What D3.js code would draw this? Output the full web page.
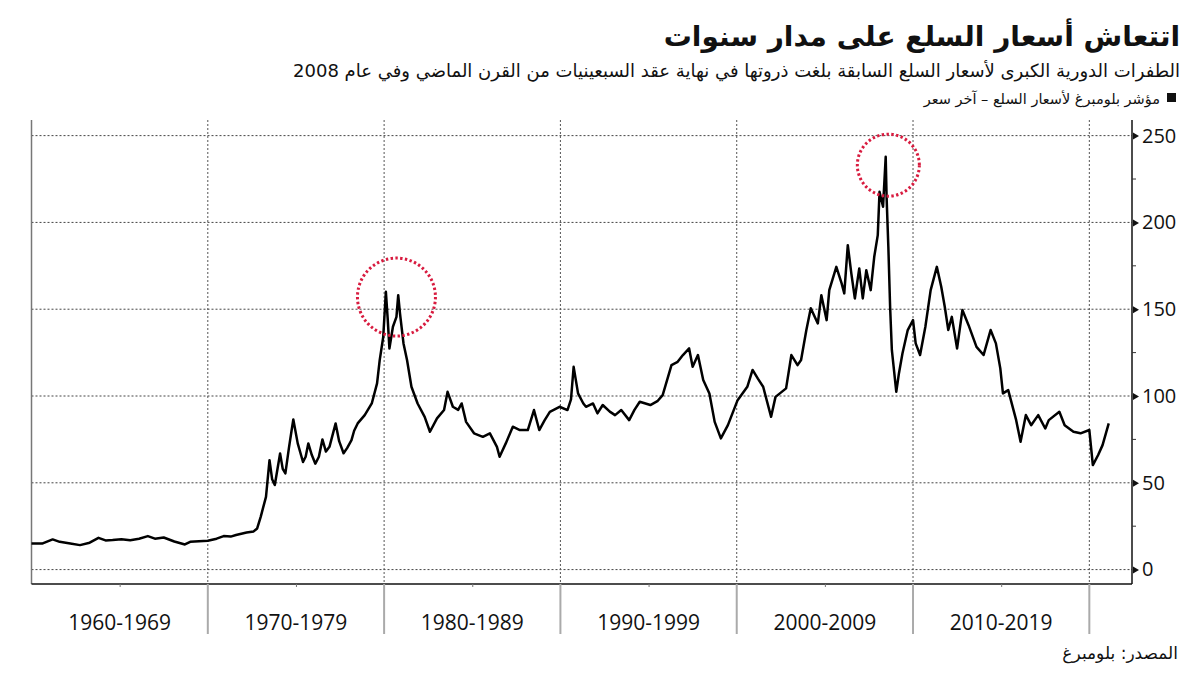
<!DOCTYPE html>
<html><head><meta charset="utf-8">
<script src="https://cdn.jsdelivr.net/npm/d3@7"></script>
<style>
html,body{margin:0;padding:0;background:#fff;}
svg{display:block;}
</style></head>
<body><svg id="c" width="1200" height="675"></svg>
<script>
// ---- data ----
const years = [1960.0,1960.6,1961.2,1961.6,1962.2,1962.75,1963.3,1963.8,1964.2,1964.6,1965.1,1965.6,1966.1,1966.6,1967.0,1967.5,1968.1,1968.7,1969.0,1969.5,
1970.0,1970.5,1970.9,1971.3,1971.6,1972.2,1972.6,1972.8,1973.0,1973.3,1973.5,1973.65,1973.8,1974.1,1974.25,1974.4,1974.6,1974.75,1974.85,1975.1,1975.4,1975.55,1975.7,1975.9,1976.1,1976.3,1976.5,1976.7,1976.9,1977.25,1977.45,1977.7,1977.9,1978.15,1978.3,1978.5,1978.9,1979.3,1979.6,1979.75,1979.95,
1980.1,1980.2,1980.3,1980.5,1980.7,1980.8,1980.9,1981.1,1981.3,1981.55,1981.9,1982.3,1982.6,1983.0,1983.4,1983.6,1983.9,1984.2,1984.4,1984.65,1985.1,1985.6,1986.0,1986.4,1986.55,1986.9,1987.3,1987.7,1988.15,1988.5,1988.8,1989.1,1989.4,1989.95,
1990.4,1990.6,1990.75,1991.0,1991.3,1991.45,1991.85,1992.1,1992.4,1992.8,1993.1,1993.45,1993.9,1994.2,1994.5,1995.1,1995.5,1995.8,1996.3,1996.65,1996.95,1997.3,1997.5,1997.8,1998.1,1998.45,1998.75,1999.1,1999.5,
2000.05,2000.6,2000.9,2001.2,2001.5,2001.95,2002.2,2002.8,2003.1,2003.45,2003.65,2003.95,2004.2,2004.6,2004.8,2005.1,2005.25,2005.65,2005.95,2006.1,2006.3,2006.5,2006.7,2006.95,2007.15,2007.35,2007.6,2007.8,2008.0,2008.1,2008.3,2008.45,2008.5,2008.6,2008.7,2008.8,2009.05,2009.2,2009.4,2009.7,
2010.0,2010.15,2010.4,2010.7,2011.0,2011.35,2011.6,2011.8,2012.0,2012.2,2012.5,2012.8,2013.15,2013.6,2014.0,2014.4,2014.7,2014.95,2015.1,2015.4,2015.7,2015.85,2016.1,2016.4,2016.7,2017.1,2017.5,2017.7,2018.3,2018.6,2019.1,2019.5,
2020.0,2020.2,2020.5,2020.75,2021.1];
const values = [15.1,15.0,17.4,16.0,15.0,14.1,15.5,18.3,16.8,17.0,17.5,16.9,17.8,19.3,17.8,18.5,16.2,14.5,16.0,16.3,
16.6,17.8,19.3,19.0,19.9,21.4,22.0,23.7,30.4,41.9,63.0,52.0,48.7,66.9,58.0,55.4,70.0,80.0,86.5,72.7,62.0,65.0,72.7,66.0,61.0,65.0,75.0,68.0,70.7,84.2,74.0,67.0,70.0,74.6,80.0,84.2,89.0,95.7,107.3,120.7,134.0,
160.0,145.0,127.4,139.9,145.6,158.1,147.6,130.3,120.7,105.3,95.7,88.0,79.4,87.1,91.9,102.4,93.8,92.0,95.7,85.1,78.5,76.5,78.5,70.7,65.0,72.7,82.3,80.4,80.4,91.9,80.4,86.0,90.9,93.8,
91.9,98.0,116.8,101.5,95.7,93.8,95.7,90.0,94.8,91.0,89.0,91.9,86.1,92.0,96.7,94.8,97.0,100.5,117.8,119.7,123.6,127.4,116.8,123.6,109.2,101.5,85.1,75.6,83.2,
97.6,105.3,115.0,110.0,105.3,88.0,99.5,104.4,123.6,117.8,120.7,138.0,150.5,141.8,158.1,143.7,161.0,174.4,164.9,159.1,186.9,170.6,156.2,173.5,156.2,172.5,161.0,180.2,192.7,217.6,209.0,237.8,214.7,186.0,151.4,126.4,102.4,113.0,124.5,138.0,
143.7,130.3,123.6,139.9,161.0,174.4,162.9,151.4,138.0,145.6,127.4,149.5,140.8,128.3,123.6,138.0,130.3,115.9,101.5,103.4,91.9,86.1,73.6,89.0,83.2,89.0,81.3,86.1,90.9,83.2,79.4,78.5,
80.4,60.2,66.0,71.7,84.2];
const yTicks = [0,50,100,150,200,250];
const yMinorTicks = [25,75,125,175,225];
const decadeStarts = [1960,1970,1980,1990,2000,2010];
const decadeLabels = ["1960-1969","1970-1979","1980-1989","1990-1999","2000-2009","2010-2019"];
const decadeBounds = [1970,1980,1990,2000,2010,2020];
const peakYears = [1980.7, 2008.6];
const peakValues = [157, 233];

const title = "اتتعاش أسعار السلع على مدار سنوات";
const subtitle = "الطفرات الدورية الكبرى لأسعار السلع السابقة بلغت ذروتها في نهاية عقد السبعينيات من القرن الماضي وفي عام 2008";
const legendText = "مؤشر بلومبرغ لأسعار السلع – آخر سعر";
const sourceText = "المصدر: بلومبرغ";

// ---- layout ----
const L = 31.5, R = 1132, T = 120, B = 584;
const svg = d3.select("#c");
const x = d3.scaleLinear().domain([1960, 2022.42]).range([L, R]);
const y = d3.scaleLinear().domain([-8.3, 259]).range([B, T]);
const arFont = "'DejaVu Sans',sans-serif";
const numFont = "'Open Sans','Noto Sans',sans-serif";

// titles
const tTitle = svg.append("text").attr("x",1180).attr("y",46).attr("direction","rtl").attr("text-anchor","start")
  .attr("font-family",arFont).attr("font-weight","bold").attr("font-size",28).attr("fill","#111").text(title);
const tSub = svg.append("text").attr("x",1180).attr("y",77).attr("direction","rtl").attr("text-anchor","start")
  .attr("font-family",arFont).attr("font-size",18).attr("fill","#111").text(subtitle);
svg.append("rect").attr("x",1167).attr("y",93).attr("width",9).attr("height",9).attr("fill","#111");
const tLeg = svg.append("text").attr("x",1160).attr("y",104).attr("direction","rtl").attr("text-anchor","start")
  .attr("font-family",arFont).attr("font-size",14.5).attr("fill","#111").text(legendText);
svg.append("text").attr("x",1178).attr("y",659).attr("direction","rtl").attr("text-anchor","start")
  .attr("font-family",arFont).attr("font-size",17).attr("fill","#111").text(sourceText);

// keep header texts from overlapping (nudge if font metrics are tall)
function nudge(upper, lower){
  const a = upper.node().getBBox(), b = lower.node().getBBox();
  const ov = (a.y + a.height) - b.y;
  if (ov > -1) lower.attr("y", +lower.attr("y") + ov + 1);
}
nudge(tTitle, tSub);
nudge(tSub, tLeg);

// grid
const g = svg.append("g");
g.selectAll(".hg").data(yTicks).join("line")
  .attr("x1",L).attr("x2",R).attr("y1",d=>y(d)).attr("y2",d=>y(d))
  .attr("stroke","#444").attr("stroke-width",1).attr("stroke-dasharray","2,2");
g.selectAll(".vg").data(decadeBounds).join("line")
  .attr("x1",d=>x(d)).attr("x2",d=>x(d)).attr("y1",T).attr("y2",B)
  .attr("stroke","#555").attr("stroke-width",1).attr("stroke-dasharray","2,2");

// left frame line
svg.append("line").attr("x1",L).attr("x2",L).attr("y1",T).attr("y2",B).attr("stroke","#777").attr("stroke-width",1.5);

// right y axis
const yAxis = d3.axisRight(y).tickValues(yTicks).tickSize(0).tickPadding(10).tickFormat(d3.format("d"));
const ya = svg.append("g").attr("transform",`translate(${R},0)`).call(yAxis);
ya.select(".domain").attr("d",`M0,${T}V${B}`).attr("stroke","#111").attr("stroke-width",1.5);
ya.selectAll(".tick text").attr("font-family",numFont).attr("font-size",20).attr("fill","#111");
ya.selectAll(".tick").append("path").attr("d","M1,-3.5L7,0L1,3.5Z").attr("fill","#111");
svg.append("g").selectAll("line").data(yMinorTicks).join("line")
  .attr("x1",R).attr("x2",R+4).attr("y1",d=>y(d)).attr("y2",d=>y(d)).attr("stroke","#333").attr("stroke-width",1);

// bottom axis
const xAxis = d3.axisBottom(x).tickValues(decadeStarts.map(d=>d+5)).tickSize(3).tickFormat("");
const xa = svg.append("g").attr("transform",`translate(0,${B})`).call(xAxis);
xa.select(".domain").attr("d",`M${L},0H${R}`).attr("stroke","#111").attr("stroke-width",1.5);
xa.selectAll(".tick line").attr("stroke","#777");
svg.append("g").selectAll("line").data(decadeBounds).join("line")
  .attr("x1",d=>x(d)).attr("x2",d=>x(d)).attr("y1",B).attr("y2",B+50)
  .attr("stroke","#aaa").attr("stroke-width",2);
svg.append("g").selectAll("text").data(decadeStarts).join("text")
  .attr("x",d=>x(d+5)).attr("y",630).attr("text-anchor","middle")
  .attr("font-family",numFont).attr("font-size",21).attr("fill","#111")
  .text((d,i)=>decadeLabels[i]);

// line
const pts = years.map((yr,i)=>[yr, values[i]]);
const line = d3.line().x(d=>x(d[0])).y(d=>y(d[1]));
svg.append("path").datum(pts).attr("d",line).attr("fill","none")
  .attr("stroke","#000").attr("stroke-width",2.5).attr("stroke-linejoin","round");

// peak circles
const radii = [39, 31];
svg.append("g").selectAll("circle").data(peakYears).join("circle")
  .attr("cx",d=>x(d)).attr("cy",(d,i)=>y(peakValues[i])).attr("r",(d,i)=>radii[i])
  .attr("fill","none").attr("stroke","#d81b3f").attr("stroke-width",3).attr("stroke-dasharray","2.4,2.4");
</script></body></html>
